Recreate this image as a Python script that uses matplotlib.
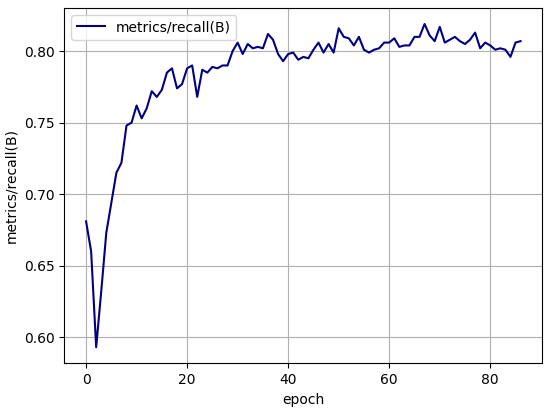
import matplotlib
matplotlib.use('Agg')
import matplotlib.pyplot as plt

# recall values, one per epoch (0..86)
epochs = list(range(87))
recall = [
    0.681, 0.660, 0.593, 0.632, 0.673, 0.694, 0.715, 0.722, 0.748, 0.750,
    0.762, 0.753, 0.760, 0.772, 0.768, 0.773, 0.785, 0.788, 0.774, 0.777,
    0.788, 0.790, 0.768, 0.787, 0.785, 0.789, 0.788, 0.790, 0.790, 0.800,
    0.806, 0.798, 0.805, 0.802, 0.803, 0.802, 0.812, 0.808, 0.798, 0.793,
    0.798, 0.799, 0.794, 0.796, 0.795, 0.801, 0.806, 0.799, 0.805, 0.799,
    0.816, 0.810, 0.809, 0.804, 0.810, 0.801, 0.799, 0.801, 0.802, 0.806,
    0.806, 0.809, 0.803, 0.804, 0.804, 0.810, 0.810, 0.819, 0.811, 0.807,
    0.817, 0.806, 0.808, 0.810, 0.807, 0.805, 0.808, 0.813, 0.802, 0.806,
    0.804, 0.801, 0.802, 0.801, 0.796, 0.806, 0.807,
]
label = 'metrics/recall(B)'

plt.rcParams['font.size'] = 10

fig = plt.figure(figsize=(5.5, 4.12), dpi=100)
ax = fig.add_subplot(111)
fig.subplots_adjust(left=0.117, right=0.986, top=0.981, bottom=0.118)

ax.plot(epochs, recall, color='navy', linewidth=1.5, label=label)
ax.set_xlabel('epoch')
ax.set_ylabel(label)
ax.legend(loc='upper left')
ax.grid()

fig.savefig('out.png', dpi=100)
